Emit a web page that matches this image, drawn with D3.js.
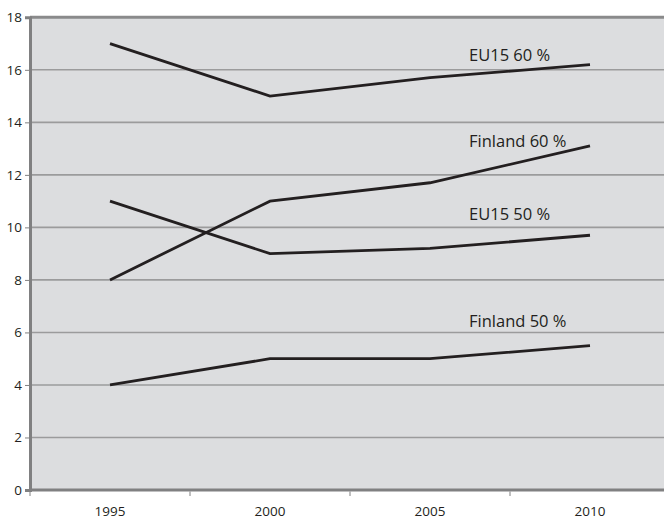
<!DOCTYPE html>
<html>
<head>
<meta charset="utf-8">
<script src="https://cdn.jsdelivr.net/npm/d3@7"></script>
<style>
  html, body { margin: 0; padding: 0; background: #ffffff; }
  svg { display: block; }
  text { font-family: "Open Sans", "DejaVu Sans", sans-serif; fill: #231f20; }
</style>
</head>
<body>
<svg id="chart" width="664" height="519"></svg>
<script>
// Years on the horizontal axis
const years = ["1995", "2000", "2005", "2010"];

// Series values (per cent)
const eu15_60 = [17, 15, 15.7, 16.2];
const finland_60 = [8, 11, 11.7, 13.1];
const eu15_50 = [11, 9, 9.2, 9.7];
const finland_50 = [4, 5, 5.0, 5.5];

// Series names as printed beside the lines
const seriesNames = ["EU15 60 %", "Finland 60 %", "EU15 50 %", "Finland 50 %"];

// Value-axis ticks
const yTicks = [0, 2, 4, 6, 8, 10, 12, 14, 16, 18];

const series = [eu15_60, finland_60, eu15_50, finland_50].map((values, i) => ({
  name: seriesNames[i],
  values
}));

// Baseline of each name label, in axis units
const labelLevels = [16.33, 13.06, 10.27, 6.2];

const svg = d3.select("#chart");
const plotLeft = 30, plotRight = 670, plotTop = 17.3, plotBottom = 490;

const x = d3.scaleBand().domain(years).range([plotLeft, plotRight]);
const y = d3.scaleLinear().domain([0, 18]).range([plotBottom, plotTop]);

// plot background
svg.append("rect")
  .attr("x", plotLeft).attr("y", plotTop)
  .attr("width", plotRight - plotLeft).attr("height", plotBottom - plotTop)
  .attr("fill", "#dcdddf");

// horizontal gridlines
svg.append("g")
  .selectAll("line")
  .data(yTicks.filter(d => d > 0 && d < 18))
  .join("line")
  .attr("x1", plotLeft).attr("x2", plotRight)
  .attr("y1", d => y(d)).attr("y2", d => y(d))
  .attr("stroke", "#9b9b9c")
  .attr("stroke-width", 1.6);

// top border
svg.append("line")
  .attr("x1", plotLeft).attr("x2", plotRight)
  .attr("y1", y(18)).attr("y2", y(18))
  .attr("stroke", "#8a8a8b").attr("stroke-width", 3);

// y axis
const yAxis = svg.append("g")
  .attr("transform", `translate(${plotLeft},0)`)
  .call(d3.axisLeft(y).tickValues(yTicks).tickSize(5).tickPadding(3));
yAxis.select(".domain").attr("stroke", "#808081").attr("stroke-width", 3);
yAxis.selectAll(".tick line").attr("stroke", "#808081").attr("stroke-width", 1);
yAxis.selectAll(".tick text")
  .attr("font-size", 13.5)
  .attr("font-family", "Open Sans, DejaVu Sans, sans-serif")
  .attr("fill", "#231f20");

// x axis: ticks sit at category boundaries, labels in the band centres
const xAxisG = svg.append("g").attr("transform", `translate(0,${plotBottom})`);
xAxisG.append("line")
  .attr("x1", plotLeft).attr("x2", plotRight)
  .attr("y1", 0).attr("y2", 0)
  .attr("stroke", "#808081").attr("stroke-width", 3);
xAxisG.selectAll("line.tick")
  .data(years)
  .join("line")
  .attr("class", "tick")
  .attr("x1", d => x(d)).attr("x2", d => x(d))
  .attr("y1", 1.5).attr("y2", 6)
  .attr("stroke", "#808081").attr("stroke-width", 1);
xAxisG.selectAll("text")
  .data(years)
  .join("text")
  .attr("x", d => x(d) + x.bandwidth() / 2)
  .attr("y", 25.5)
  .attr("text-anchor", "middle")
  .attr("font-size", 13.5)
  .text(d => d);

// series lines
const line = d3.line()
  .x((d, i) => x(years[i]) + x.bandwidth() / 2)
  .y(d => y(d));

svg.append("g")
  .selectAll("path")
  .data(series)
  .join("path")
  .attr("d", d => line(d.values))
  .attr("fill", "none")
  .attr("stroke", "#231f20")
  .attr("stroke-width", 2.8)
  .attr("stroke-linejoin", "miter");

// series names
svg.append("g")
  .selectAll("text")
  .data(series)
  .join("text")
  .attr("x", x("2005") + x.bandwidth() / 2 + 39)
  .attr("y", (d, i) => y(labelLevels[i]))
  .attr("font-size", 16.5)
  .text(d => d.name);
</script>
</body>
</html>
